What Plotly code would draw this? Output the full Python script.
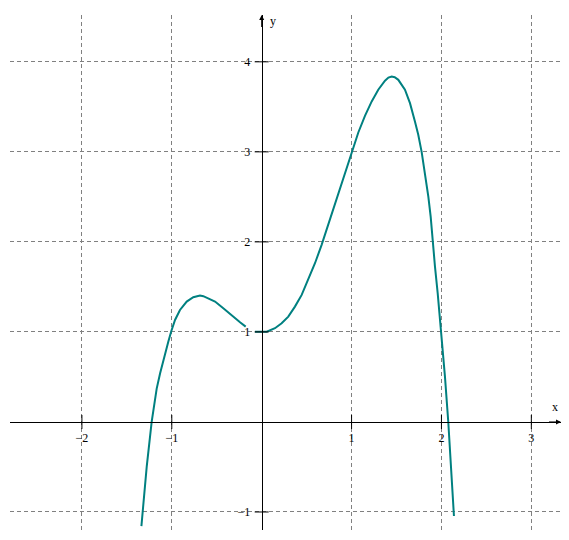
import plotly.graph_objects as go

# --- Datos ---
x_range = [-2.80, 3.33]
y_range = [-1.20, 4.52]

x_ticks = [-2, -1, 1, 2, 3]
x_tick_labels = ["\u22122", "\u22121", "1", "2", "3"]
y_ticks = [-1, 1, 2, 3, 4]
y_tick_labels = ["\u22121", "1", "2", "3", "4"]

# rama izquierda
left_x = [-1.338, -1.324, -1.279, -1.224, -1.196, -1.168, -1.130, -1.094, -1.039,
          -1.006, -0.964, -0.909, -0.834, -0.761, -0.723, -0.686, -0.649, -0.612,
          -0.519, -0.427, -0.334, -0.241, -0.178]
left_y = [-1.156, -1.0, -0.497, 0.0, 0.2, 0.37, 0.54, 0.69, 0.892,
          1.008, 1.133, 1.244, 1.337, 1.385, 1.398, 1.404, 1.397, 1.381,
          1.337, 1.263, 1.181, 1.107, 1.059]

# rama derecha
right_x = [-0.075, 0.0, 0.056, 0.148, 0.222, 0.296, 0.370, 0.445, 0.518, 0.593,
           0.667, 0.741, 0.779, 0.834, 0.871, 0.946, 1.001, 1.075, 1.149, 1.224,
           1.297, 1.372, 1.410, 1.446, 1.480, 1.520, 1.594, 1.650, 1.705, 1.742,
           1.780, 1.817, 1.854, 1.880, 1.902, 1.928, 1.958, 1.983, 1.998, 2.039,
           2.076, 2.106, 2.139]
right_y = [1.003, 1.0, 1.003, 1.041, 1.096, 1.17, 1.281, 1.411, 1.575, 1.763,
           1.967, 2.195, 2.31, 2.48, 2.595, 2.825, 2.997, 3.215, 3.40, 3.56,
           3.69, 3.79, 3.825, 3.836, 3.828, 3.80, 3.69, 3.541, 3.337, 3.189,
           2.997, 2.763, 2.503, 2.281, 1.997, 1.726, 1.43, 1.17, 1.003, 0.503,
           0.0, -0.497, -1.044]

color_curva = "#008080"
fuente = dict(family="Liberation Serif", size=12, color="black")

fig = go.Figure()

for xs, ys in [(left_x, left_y), (right_x, right_y)]:
    fig.add_trace(go.Scatter(
        x=xs, y=ys, mode="lines",
        line=dict(color=color_curva, width=2),
        hoverinfo="skip", showlegend=False
    ))

# marcas de los ejes (cruces)
fig.add_trace(go.Scatter(
    x=x_ticks, y=[0] * len(x_ticks), mode="markers",
    marker=dict(symbol="line-ns", size=10, line=dict(color="black", width=1)),
    hoverinfo="skip", showlegend=False
))
fig.add_trace(go.Scatter(
    x=[0] * len(y_ticks), y=y_ticks, mode="markers",
    marker=dict(symbol="line-ew", size=10, line=dict(color="black", width=1)),
    hoverinfo="skip", showlegend=False
))

# posicion de los ejes en el origen
pos_x_axis = (0 - y_range[0]) / (y_range[1] - y_range[0])
pos_y_axis = (0 - x_range[0]) / (x_range[1] - x_range[0])

# el body de la pagina tiene 8px de margen, se compensa aqui
fig.update_layout(
    width=569, height=524,
    margin=dict(l=2, r=16, t=7, b=2),
    plot_bgcolor="white", paper_bgcolor="white",
    xaxis=dict(
        range=x_range, tickvals=x_ticks, ticktext=x_tick_labels,
        anchor="free", position=pos_x_axis,
        showline=True, linecolor="black", linewidth=1,
        zeroline=False, ticks="", ticklabelstandoff=5,
        showgrid=True, gridcolor="#808080", gridwidth=1, griddash="4px,3px",
        tickfont=fuente
    ),
    yaxis=dict(
        range=y_range, tickvals=y_ticks, ticktext=y_tick_labels,
        anchor="free", position=pos_y_axis,
        showline=True, linecolor="black", linewidth=1,
        zeroline=False, ticks="", ticklabelstandoff=9,
        showgrid=True, gridcolor="#808080", gridwidth=1, griddash="4px,3px",
        tickfont=fuente
    ),
    annotations=[
        # flechas
        dict(x=x_range[1], y=0, ax=x_range[1] - 0.15, ay=0,
             xref="x", yref="y", axref="x", ayref="y", text="",
             showarrow=True, arrowhead=2, arrowsize=1, arrowwidth=1, arrowcolor="black"),
        dict(x=0, y=y_range[1], ax=0, ay=y_range[1] - 0.15,
             xref="x", yref="y", axref="x", ayref="y", text="",
             showarrow=True, arrowhead=2, arrowsize=1, arrowwidth=1, arrowcolor="black"),
        # nombres de los ejes
        dict(x=x_range[1], y=0, text="x", showarrow=False, xanchor="right",
             yanchor="bottom", xshift=-1, yshift=6, font=fuente),
        dict(x=0, y=y_range[1], text="y", showarrow=False, xanchor="left",
             yanchor="top", xshift=6, yshift=3, font=fuente),
    ]
)

fig.write_html("out.html")
